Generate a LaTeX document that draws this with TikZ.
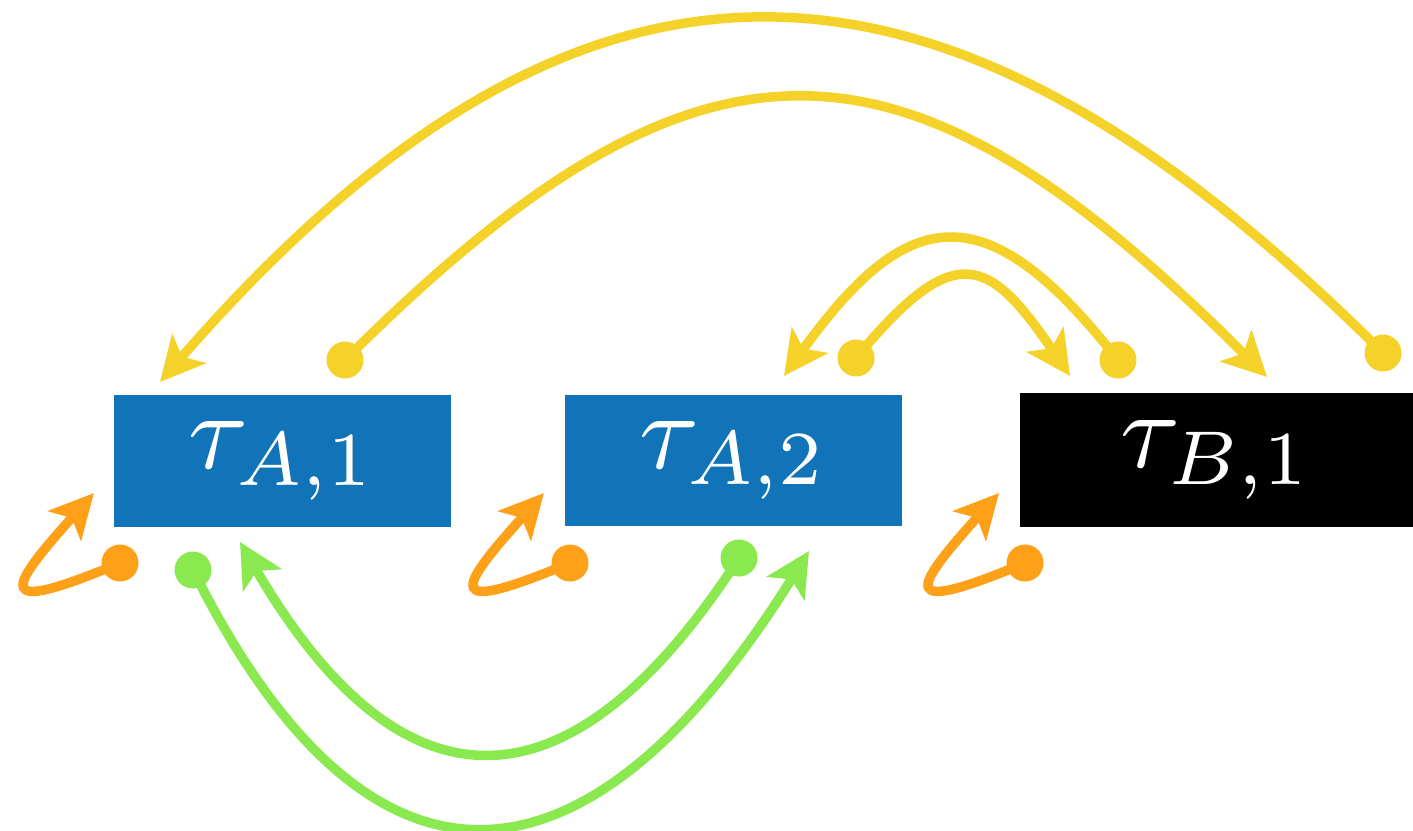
\documentclass[tikz,border=0pt]{standalone}
\usepackage{graphicx}
\usetikzlibrary{arrows.meta}
\definecolor{boxblue}{RGB}{17,115,184}
\definecolor{cyel}{RGB}{245,210,42}
\definecolor{corg}{RGB}{255,160,25}
\definecolor{cgrn}{RGB}{139,233,80}
\newcommand{\tlabel}[2]{\scalebox{3.1}{$\tau_{#1,#2}$}}
\tikzset{
  task/.style={rectangle, minimum height=1.31cm, inner sep=0pt, text=white},
  conn/.style={line width=0.095cm, -{Stealth[length=12.5pt,width=12.5pt,inset=3pt]}},
  ydot/.style={circle, fill=cyel, minimum size=0.37cm, inner sep=0pt},
  odot/.style={circle, fill=corg, minimum size=0.37cm, inner sep=0pt},
  gdot/.style={circle, fill=cgrn, minimum size=0.37cm, inner sep=0pt},
}
\begin{document}
\begin{tikzpicture}[x=0.01cm,y=-0.01cm]
\useasboundingbox (0,0) rectangle (1413,830);
% tasks
\node[task, fill=boxblue, minimum width=3.37cm] (A1) at (282.5,461) {\tlabel{A}{1}};
\node[task, fill=boxblue, minimum width=3.37cm] (A2) at (733.5,460.5) {\tlabel{A}{2}};
\node[task, fill=black, minimum width=3.93cm, minimum height=1.34cm] (B1) at (1216.5,460) {\tlabel{B}{1}};
% dots
\node[ydot] (dy1) at (1383,353) {};
\node[ydot] (dy2) at (345,360) {};
\node[ydot] (dy3) at (1118,360) {};
\node[ydot] (dy4) at (856,358) {};
\node[gdot] (dg1) at (193,570) {};
\node[gdot] (dg2) at (739,558) {};
\node[odot] (do1) at (120,563) {};
\node[odot] (do2) at (570,563) {};
\node[odot] (do3) at (1025,563) {};
% tips
\coordinate (ty1) at (160,382);
\coordinate (ty2) at (1267,377);
\coordinate (ty3) at (784,376);
\coordinate (ty4) at (1070,376);
\coordinate (tg1) at (809,551);
\coordinate (tg2) at (240,542);
\coordinate (to1) at (94,493);
\coordinate (to2) at (544,493);
\coordinate (to3) at (999,493);
% yellow
\draw[conn, cyel] (dy1.center) .. controls (952,-78) and (591,-114) .. (ty1);
\draw[conn, cyel] (dy2.center) .. controls (705,0) and (907,17) .. (ty2);
\draw[conn, cyel] (dy3.center) .. controls (985,190) and (907,205) .. (ty3);
\draw[conn, cyel] (dy4.center) .. controls (955,238) and (989,257) .. (ty4);
% green
\draw[conn, cgrn] (dg1.center) .. controls (370,925) and (588,905) .. (tg1);
\draw[conn, cgrn] (dg2.center) .. controls (565,827) and (397,812) .. (tg2);
% orange self loops
\draw[conn, corg] (do1.center) .. controls (-9,617) and (7,590) .. (to1);
\draw[conn, corg] (do2.center) .. controls (441,617) and (457,590) .. (to2);
\draw[conn, corg] (do3.center) .. controls (896,617) and (912,590) .. (to3);
\end{tikzpicture}
\end{document}
